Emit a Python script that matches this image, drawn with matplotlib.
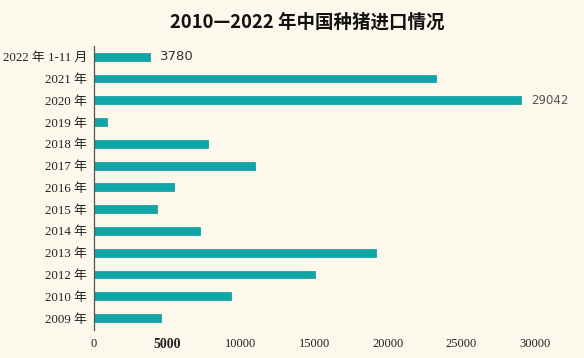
import matplotlib.pyplot as plt
import numpy as np

# 数据
years = ['2022 年 1-11 月', '2021 年', '2020 年', '2019 年', '2018 年', '2017 年',
         '2016 年', '2015 年', '2014 年', '2013 年', '2012 年', '2010 年', '2009 年']
imports = [3780, 23300, 29042, 900, 7770, 10950, 5470, 4320, 7230, 19190, 15070, 9320, 4530]
shown_labels = {0: '3780', 2: '29042'}
x_ticks = [0, 5000, 10000, 15000, 20000, 25000, 30000]

bg = '#fdf8ec'
teal = '#10a5a7'
cjk = ['Liberation Serif', 'Noto Sans CJK SC', 'DejaVu Sans']

fig = plt.figure(figsize=(5.84, 3.58), dpi=100, facecolor=bg)
ax = fig.add_axes([0.161, 0.078, 0.82, 0.794], facecolor=bg)

y = np.arange(len(years))
ax.barh(y, imports, height=0.36, color=teal, edgecolor='#0b9597', linewidth=0.5)

for i, txt in shown_labels.items():
    ax.text(imports[i] + 700, y[i], txt, va='center', ha='left',
            fontsize=9.5 if i == 0 else 8.5, color='#333333' if i == 0 else '#555555',
            family=['DejaVu Sans'])

ax.set_ylim(12.55, -0.5)
ax.set_xlim(0, 32600)
ax.set_yticks(y)
ax.set_yticklabels(years, family=cjk, fontsize=9.3, color='#222222')
ax.set_xticks(x_ticks)
ax.set_xticklabels([str(t) for t in x_ticks], family=['Liberation Serif'], fontsize=9,
                   color='#222222')
ax.get_xticklabels()[1].set_fontweight('bold')
ax.get_xticklabels()[1].set_fontsize(10)
ax.tick_params(axis='both', length=0)
ax.tick_params(axis='x', pad=6)
ax.tick_params(axis='y', pad=5)

for s in ['top', 'right', 'bottom']:
    ax.spines[s].set_visible(False)
ax.spines['left'].set_color('#555555')
ax.spines['left'].set_linewidth(0.9)

fig.text(0.526, 0.938, '2010—2022 年中国种猪进口情况', ha='center', va='center',
         fontsize=13.3, fontweight='bold', family=['Noto Sans CJK SC', 'DejaVu Sans'],
         color='#111111')

fig.savefig('out.png', dpi=100, facecolor=bg)
